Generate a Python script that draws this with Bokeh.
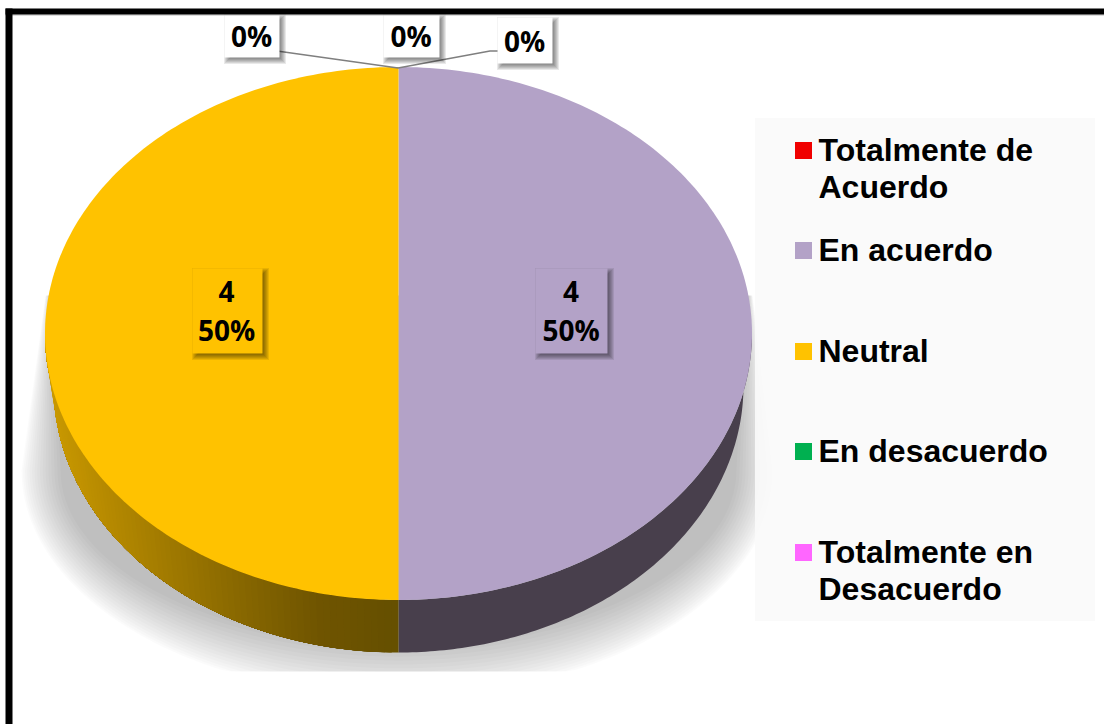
import numpy as np
from bokeh.plotting import figure
from bokeh.models import Range1d
from bokeh.core.properties import value
from bokeh.embed import file_html
from bokeh.resources import INLINE

categories = ["Totalmente de\nAcuerdo", "En acuerdo", "Neutral", "En desacuerdo", "Totalmente en\nDesacuerdo"]
counts = [0, 4, 4, 0, 0]
colors = ["#F00000", "#B3A2C7", "#FFC200", "#00B050", "#FF66FF"]
side_left = [(45, "#CB9A00"), (130, "#AE8400"), (220, "#8F6D00"), (320, "#705500"), (398, "#665000")]
side_right = "#483F4C"

W, H = 1104, 724
cx, cy, rx, ry, depth = 398, 333, 353.5, 266.5, 52
rx2, ry2 = 345, 267

p = figure(width=W, height=H, output_backend="svg", toolbar_location=None,
           x_range=Range1d(0, W), y_range=Range1d(H, 0),
           x_axis_type=None, y_axis_type=None, min_border=0,
           outline_line_color=None, background_fill_color="white", border_fill_color="white")
p.grid.visible = False


def ell(a):
    return cx + rx * np.sin(a), cy - ry * np.cos(a)


def ell2(a):
    return cx + rx2 * np.sin(a), cy + depth - ry2 * np.cos(a)


# ground shadow
for i in range(16):
    inset = 52 * (1 - (i / 15)) ** 1.2
    t = np.linspace(np.pi, 0, 120)
    ex = 398 + (377 - inset * 0.75) * np.cos(t)
    ey = np.minimum(470 + (226 - inset) * np.sin(t), 671)
    sx = np.r_[45 + inset * 0.1, ex, 752 - inset * 0.1]
    sy = np.r_[295, ey, 295]
    p.patch(sx, sy, fill_color="black", fill_alpha=0.014, line_color=None)

# legend panel
p.quad(left=754.5, right=1094.5, top=117.5, bottom=620.5, fill_color="#f9f9f9", fill_alpha=0.9, line_color=None)

# slices: angles from the values, clockwise from twelve o'clock
total = sum(counts)
edges = np.r_[0, np.cumsum(counts)] / total * 2 * np.pi


def side_color(x):
    xs = [s[0] for s in side_left]
    rgb = np.array([[int(s[1][j:j + 2], 16) for j in (1, 3, 5)] for s in side_left])
    c = [int(np.interp(x, xs, rgb[:, k])) for k in range(3)]
    return "#%02x%02x%02x" % tuple(c)


for k, col in enumerate(colors):
    a0, a1 = edges[k], edges[k + 1]
    lo, hi = max(a0, np.pi / 2), min(a1, 3 * np.pi / 2)
    if a1 <= a0 or hi <= lo:
        continue
    if k == 2:
        # bands overlap: each runs from its angle to the far end, later ones paint over it
        for s0 in np.linspace(lo, hi, 81)[:-1]:
            a = np.linspace(s0, hi, 60)
            x1, y1 = ell(a)
            x2, y2 = ell2(a[::-1])
            p.patch(np.r_[x1, x2], np.r_[y1, y2], fill_color=side_color(float(x1[0])), line_color=None)
    else:
        a = np.linspace(lo, hi, 120)
        x1, y1 = ell(a)
        x2, y2 = ell2(a[::-1])
        p.patch(np.r_[x1, x2], np.r_[y1, y2], fill_color=side_right, line_color=None)

for k, col in enumerate(colors):
    a0, a1 = edges[k], edges[k + 1]
    if a1 <= a0:
        continue
    a = np.linspace(a0, a1, 181)
    x, y = ell(a)
    p.patch(np.r_[cx, x], np.r_[cy, y], fill_color=col, line_color=None)


def shadowed_box(l, r, t, b, fill):
    for i in range(7):
        g = 3.5 - i
        p.quad(left=l + 3 - g, right=r + 3 + g, top=t + 3 - g, bottom=b + 3 + g,
               fill_color="black", fill_alpha=0.085, line_color=None)
    p.quad(left=l, right=r, top=t, bottom=b, fill_color=fill, line_color=None)


# leader lines of the empty slices
p.line([276.5, 397.5, 489.5, 499.5], [50.5, 67.5, 50.5, 50.5], line_color="#7f7f7f", line_width=1.6)

font = value("Open Sans")
label_size = "28px"
zero_boxes = [(224, 279, 14, 57, 251, 35), (383, 439, 14, 57, 410.5, 35), (497, 552, 17, 63, 524, 40)]
zero_pcts = [c for c in counts if c == 0]
for b, c in zip(zero_boxes, zero_pcts):
    shadowed_box(b[0], b[1], b[2], b[3], "white")
    p.text([b[4]], [b[5]], text=["%d%%" % round(100 * c / total)], text_font=font, text_font_style="bold",
           text_font_size=label_size, text_align="center", text_baseline="middle", text_color="black")

val_boxes = {1: (535, 607, 268, 353, 570.5), 2: (192, 262, 268, 353, 226)}
for k, b in val_boxes.items():
    shadowed_box(b[0], b[1], b[2], b[3], colors[k])
    p.text([b[4]], [291], text=[str(counts[k])], text_font=font, text_font_style="bold",
           text_font_size=label_size, text_align="center", text_baseline="middle", text_color="black")
    p.text([b[4]], [329], text=["%d%%" % round(100 * counts[k] / total)], text_font=font, text_font_style="bold",
           text_font_size=label_size, text_align="center", text_baseline="middle", text_color="black")

# legend
leg_y = [150, 250, 351, 451, 552]
for name, col, yy in zip(categories, colors, leg_y):
    p.quad(left=794.5, right=811.5, top=yy - 8.5, bottom=yy + 8.5, fill_color=col, line_color=None)
    for j, line in enumerate(name.split("\n")):
        p.text([818], [yy - 1 + j * 37.5], text=[line], text_font=value("Liberation Sans"), text_font_style="bold",
               text_font_size="32px", text_align="left", text_baseline="middle", text_color="black")

# outer frame
p.quad(left=5, right=W, top=14, bottom=15, fill_color="#b5b5b5", line_color=None)
p.quad(left=5, right=W, top=8, bottom=14, fill_color="black", line_color=None)
p.quad(left=5, right=12, top=8, bottom=H, fill_color="black", line_color=None)

open("out.html", "w").write(file_html(p, INLINE))
